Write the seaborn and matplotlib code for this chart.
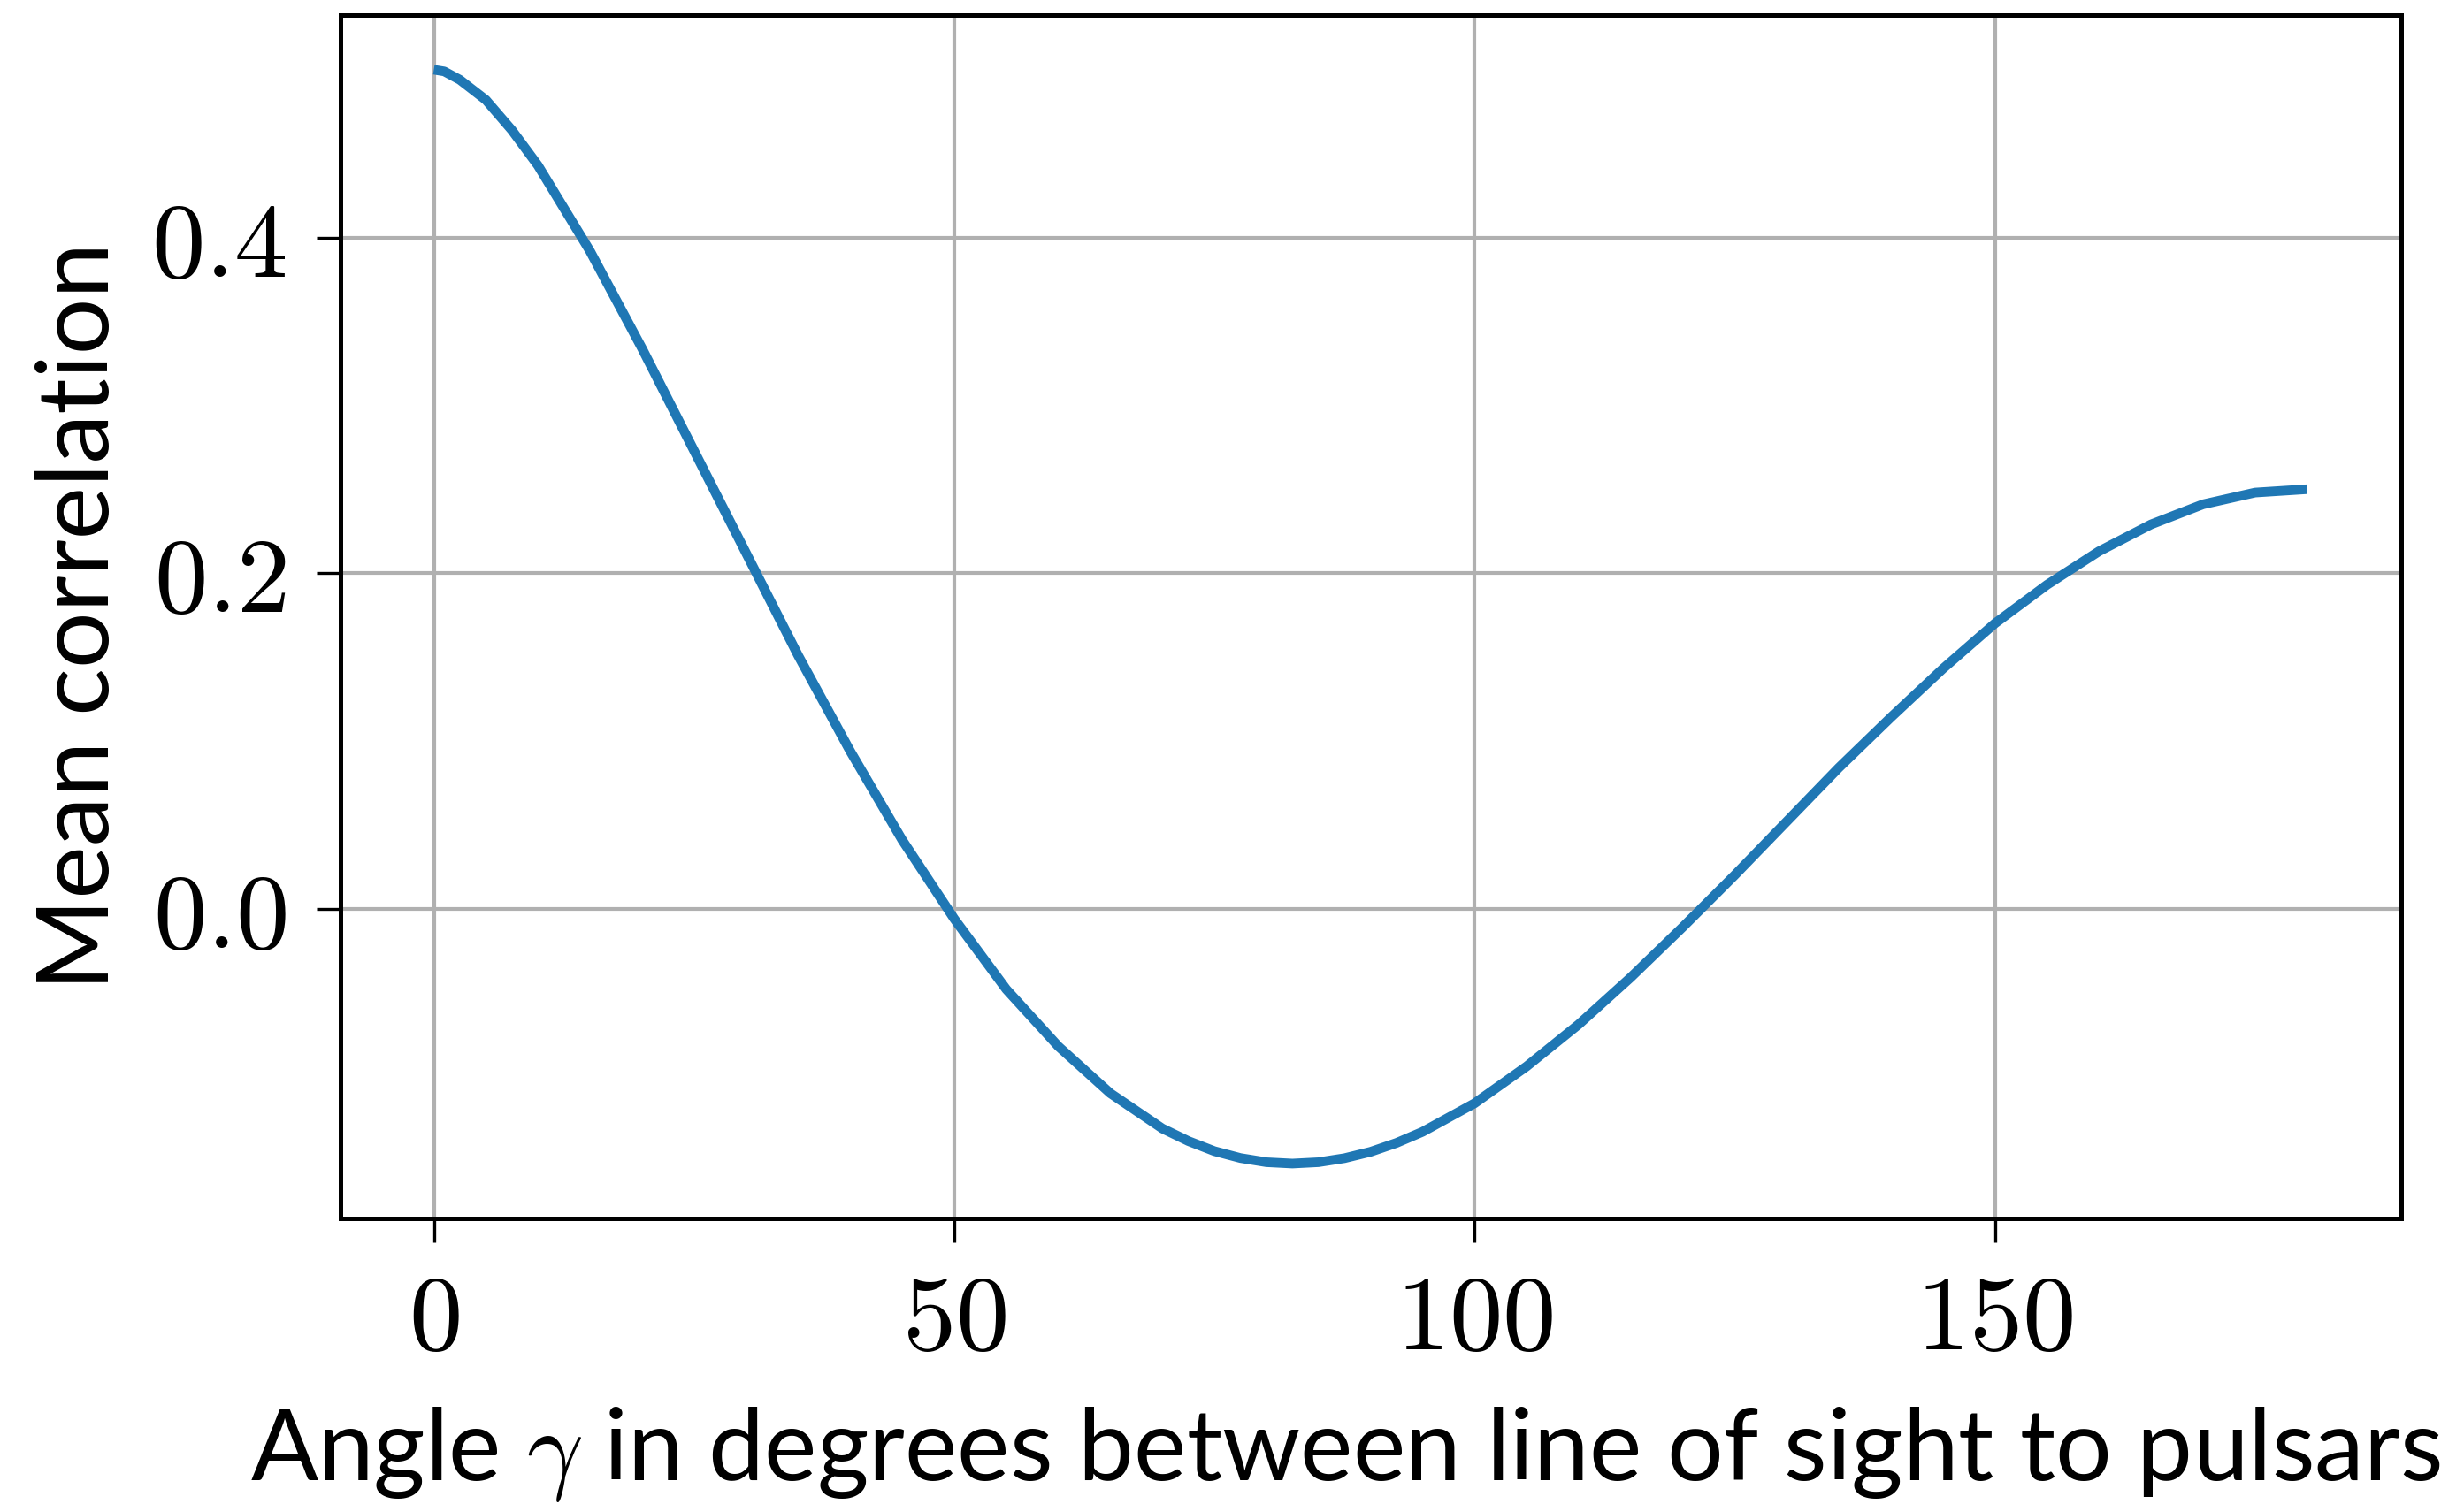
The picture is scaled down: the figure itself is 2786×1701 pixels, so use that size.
import matplotlib
matplotlib.use("Agg")
import matplotlib.pyplot as plt
import seaborn as sns
from matplotlib.ticker import FuncFormatter

# --- DATA: mean correlation vs. angle between pulsars ---
angle_deg = [0, 1, 2.5, 5, 7.5, 10, 15, 20, 25, 30, 35, 40, 45, 50, 55, 60, 65, 70, 72.5,
             75, 77.5, 80, 82.5, 85, 87.5, 90, 92.5, 95, 100, 105, 110, 115, 120, 125,
             130, 135, 140, 145, 150, 155, 160, 165, 170, 175, 180]
mean_corr = [0.500, 0.499, 0.494, 0.482, 0.464, 0.443, 0.392, 0.334, 0.273, 0.212,
             0.151, 0.094, 0.041, -0.006, -0.048, -0.082, -0.110, -0.131, -0.1385,
             -0.1445, -0.1486, -0.1511, -0.1519, -0.1511, -0.1487, -0.1449, -0.1396,
             -0.133, -0.116, -0.094, -0.069, -0.041, -0.011, 0.020, 0.052, 0.084,
             0.114, 0.143, 0.170, 0.193, 0.213, 0.229, 0.241, 0.248, 0.250]
x_ticks = [0, 50, 100, 150]
y_ticks = [0.0, 0.2, 0.4]

# --- STYLE ---
sns.set_style("ticks")
plt.rcParams["font.family"] = ["Lato", "DejaVu Sans"]
plt.rcParams["mathtext.fontset"] = "cm"
plt.rcParams["text.color"] = "black"
plt.rcParams["axes.labelcolor"] = "black"
plt.rcParams["xtick.color"] = "black"
plt.rcParams["ytick.color"] = "black"

fig = plt.figure(figsize=(2787 / 300, 1701 / 300), dpi=300)
ax = fig.add_axes([0.138, 0.190, 0.836, 0.800])

sns.lineplot(x=angle_deg, y=mean_corr, ax=ax, color="#1f77b4", linewidth=2.6)
ax.lines[0].set_solid_capstyle("butt")

ax.set_xticks(x_ticks)
ax.set_yticks(y_ticks)
ax.xaxis.set_major_formatter(FuncFormatter(lambda v, p: f"${v:.0f}$"))
ax.yaxis.set_major_formatter(FuncFormatter(lambda v, p: f"${v:.1f}$"))
ax.tick_params(labelsize=29, length=6.5, width=0.8, pad=8, color="black", labelcolor="black")

ax.grid(True, color="#b0b0b0", linewidth=1.0)
ax.set_axisbelow(True)
for s in ax.spines.values():
    s.set_linewidth(1.2)
    s.set_color("black")

ax.set_xlabel(r"Angle $\gamma$ in degrees between line of sight to pulsars", fontsize=27)
ax.set_ylabel("Mean correlation", fontsize=27, labelpad=7)
ax.xaxis.set_label_coords(0.488, -0.155)

fig.savefig("out.png", dpi=300)
